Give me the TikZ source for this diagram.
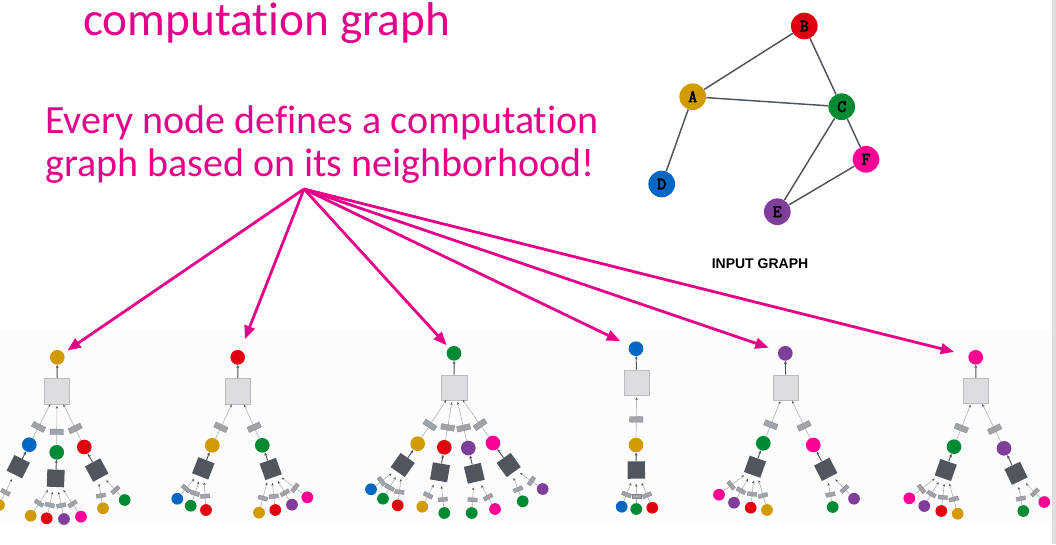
\documentclass[tikz,border=0pt]{standalone}
\usepackage{fontspec}
\setmainfont{Carlito}[Ligatures=NoCommon]
\newfontfamily\arialf{Liberation Sans}
\newfontfamily\courb{Latin Modern Mono}[AutoFakeBold=3.5]
\usetikzlibrary{arrows.meta,calc}
\definecolor{mag}{RGB}{228,0,137}
\definecolor{cA}{RGB}{209,155,0}
\definecolor{cB}{RGB}{224,0,18}
\definecolor{cC}{RGB}{0,138,52}
\definecolor{cD}{RGB}{0,104,196}
\definecolor{cE}{RGB}{126,62,154}
\definecolor{cF}{RGB}{255,0,148}
\definecolor{edgeg}{RGB}{78,84,92}
\definecolor{lsqf}{RGB}{220,221,224}
\definecolor{lsqd}{RGB}{185,187,190}
\definecolor{dsqf}{RGB}{80,85,94}
\definecolor{msgf}{RGB}{160,164,168}
\definecolor{lnc}{RGB}{182,184,187}
\definecolor{bgband}{RGB}{252,252,252}
\definecolor{edgestrip}{RGB}{222,222,222}
\tikzset{
  ig/.style={circle, inner sep=0, minimum size=20pt, text=black, font=\courb\bfseries\fontsize{13}{13}\selectfont},
  gedge/.style={draw=edgeg, line width=1.1pt},
  gn/.style={circle, inner sep=0, minimum size=11pt},
  lf/.style={circle, inner sep=0, minimum size=8.8pt},
  lsq/.style={rectangle, fill=lsqf, draw=lsqd, line width=0.7pt, minimum size=19pt, inner sep=0},
  dsq/.style={rectangle, fill=dsqf, minimum size=13pt, inner sep=0},
  msg/.style={rectangle, fill=msgf, draw=msgf!80!black, line width=0.2pt, minimum width=4.2pt, minimum height=10pt, inner sep=0, sloped},
  smsg/.style={rectangle, fill=msgf, draw=msgf!80!black, line width=0.2pt, minimum width=3pt, minimum height=7pt, inner sep=0, sloped},
  ln/.style={draw=lnc, line width=0.5pt, -{Stealth[length=2pt,width=1.8pt,color=edgeg]}},
  up/.style={draw=edgeg, line width=0.7pt, -{Stealth[length=2.4pt,width=2.2pt]}},
  bigarr/.style={draw=mag, line width=2.1pt, -{Triangle[length=10pt,width=8pt]}},
}
\newcommand\mkG[3]{\node[gn, fill=#3] (#1) at (#2) {};}
\newcommand\mkL[3]{\node[lf, fill=#3] (#1) at (#2) {};}
\newcommand\mkS[3]{\node[lsq] (#1) at (#2) {}; \draw[up] (#1) -- (#3);}
\newcommand\mkA[3]{\path (#2) -- (#3) node[pos=0, sloped, dsq] (#1) {}; \draw[up] (#1) -- (#3);}
\newcommand\edL[3][0.33]{\draw[ln] (#2) -- node[msg, pos=#1] {} ($(#3)!11pt!(#2)$);}
\newcommand\edD[3][0.36]{\draw[ln] (#2) -- node[smsg, pos=#1] {} ($(#3)!10.5pt!(#2)$);}
\begin{document}
\begin{tikzpicture}[x=0.75pt, y=-0.75pt]
\useasboundingbox (0,0) rectangle (1056,544);
\fill[bgband] (0,330) rectangle (1052,524);
\fill[edgestrip] (1052,0) rectangle (1056,544);

% title and text
\node[anchor=base west, inner sep=0, text=mag, font=\fontsize{35.5}{40}\selectfont] (title) at (83,35) {computation graph};
\node[anchor=base west, inner sep=0, text=mag, font=\fontsize{30}{35}\selectfont] (l1) at (45,133) {Every node defines a computation};
\node[anchor=base west, inner sep=0, text=mag, font=\fontsize{30}{35}\selectfont] (l2) at (45,176) {graph based on its neighborhood!};

% input graph
\node[ig, fill=cB] (B) at (804.3,26) {B};
\node[ig, fill=cA] (A) at (692.7,96.7) {A};
\node[ig, fill=cC] (C) at (841.7,106.7) {C};
\node[ig, fill=cF] (F) at (866,159.3) {F};
\node[ig, fill=cD] (D) at (661.7,184) {D};
\node[ig, fill=cE] (E) at (777.3,211.7) {E};
\draw[gedge] (A) -- (B) (A) -- (C) (B) -- (C) (A) -- (D) (C) -- (E) (C) -- (F) (E) -- (F);
\node[font=\arialf\bfseries\fontsize{10.5}{12}\selectfont] (iglabel) at (760,264) {INPUT GRAPH};

\begin{scope}
\clip (0,330) rectangle (1052,524);
% ---------- tree 1 (A) ----------
\mkG{t1r}{57.3,357.3}{cA}
\mkS{t1s}{57,391.3}{t1r}
\mkG{t1a}{29.3,444.7}{cD}
\mkG{t1b}{56.7,452.3}{cC}
\mkG{t1c}{84.3,447}{cB}
\edL{t1a}{t1s} \edL{t1b}{t1s} \edL{t1c}{t1s}
\mkA{t1aa}{18.3,466.7}{t1a}
\mkA{t1ba}{55.7,478.3}{t1b}
\mkA{t1ca}{96.7,470}{t1c}
\mkL{t1a1}{-1,505}{cA}
\mkL{t1b1}{30.7,515.7}{cA} \mkL{t1b2}{46.7,518.3}{cB} \mkL{t1b3}{64,519}{cE} \mkL{t1b4}{81,516.7}{cF}
\mkL{t1c1}{103,508.3}{cA} \mkL{t1c2}{124.7,500}{cC}
\edD{t1a1}{t1aa}
\edD{t1b1}{t1ba} \edD{t1b2}{t1ba} \edD{t1b3}{t1ba} \edD{t1b4}{t1ba}
\edD{t1c1}{t1ca} \edD{t1c2}{t1ca}
% ---------- tree 2 (B) ----------
\mkG{t2r}{237.7,357.3}{cB}
\mkS{t2s}{238,391.3}{t2r}
\mkG{t2a}{212.3,445.3}{cA}
\mkG{t2b}{262.3,445.3}{cC}
\edL{t2a}{t2s} \edL{t2b}{t2s}
\mkA{t2aa}{203.3,468.3}{t2a}
\mkA{t2ba}{270.7,469}{t2b}
\mkL{t2a1}{177.3,498.7}{cD} \mkL{t2a2}{190.7,505.7}{cC} \mkL{t2a3}{206,510}{cB}
\mkL{t2b1}{259,512.7}{cA} \mkL{t2b2}{275.3,510}{cB} \mkL{t2b3}{292,504.7}{cE} \mkL{t2b4}{307.3,497.3}{cF}
\edD{t2a1}{t2aa} \edD{t2a2}{t2aa} \edD{t2a3}{t2aa}
\edD{t2b1}{t2ba} \edD{t2b2}{t2ba} \edD{t2b3}{t2ba} \edD{t2b4}{t2ba}
% ---------- tree 3 (C) ----------
\mkG{t3r}{454,353.3}{cC}
\mkS{t3s}{454.3,387.7}{t3r}
\mkG{t3a}{417.7,443.7}{cA}
\mkG{t3b}{444.3,447.3}{cB}
\mkG{t3c}{468.3,448}{cE}
\mkG{t3d}{493,443}{cF}
\edL{t3a}{t3s} \edL{t3b}{t3s} \edL{t3c}{t3s} \edL{t3d}{t3s}
\mkA{t3aa}{402.7,465}{t3a}
\mkA{t3ba}{440,472.3}{t3b}
\mkA{t3ca}{474.3,473.3}{t3c}
\mkA{t3da}{508.7,465}{t3d}
\mkL{t3a1}{371,489.3}{cD} \mkL{t3a2}{383,498.7}{cC} \mkL{t3a3}{397.7,505.3}{cB}
\mkL{t3b1}{422.3,506.7}{cA} \mkL{t3b2}{444.3,513}{cC}
\mkL{t3c1}{471.7,513}{cC} \mkL{t3c2}{495,509}{cF}
\mkL{t3d1}{522.7,501.3}{cC} \mkL{t3d2}{542.7,489}{cE}
\edD{t3a1}{t3aa} \edD{t3a2}{t3aa} \edD{t3a3}{t3aa}
\edD{t3b1}{t3ba} \edD{t3b2}{t3ba}
\edD{t3c1}{t3ca} \edD{t3c2}{t3ca}
\edD{t3d1}{t3da} \edD{t3d2}{t3da}
% ---------- tree 4 (D) ----------
\mkG{t4r}{636,348.7}{cD}
\mkS{t4s}{636.7,382.7}{t4r}
\mkG{t4a}{636,445}{cA}
\edL[0.45]{t4a}{t4s}
\mkA{t4aa}{636.3,470}{t4a}
\mkL{t4a1}{621.7,506.7}{cD} \mkL{t4a2}{636.3,509}{cC} \mkL{t4a3}{652.3,507.7}{cB}
\edD{t4a1}{t4aa} \edD{t4a2}{t4aa} \edD{t4a3}{t4aa}
% ---------- tree 5 (E) ----------
\mkG{t5r}{785.3,353.3}{cE}
\mkS{t5s}{785.7,387.7}{t5r}
\mkG{t5a}{763.3,443.3}{cC}
\mkG{t5b}{813.3,445}{cF}
\edL{t5a}{t5s} \edL{t5b}{t5s}
\mkA{t5aa}{755,466.7}{t5a}
\mkA{t5ba}{825.7,469.3}{t5b}
\mkL{t5a1}{719,494.7}{cF} \mkL{t5a2}{734,502.7}{cE} \mkL{t5a3}{750.7,507.7}{cB} \mkL{t5a4}{767,510}{cA}
\mkL{t5b1}{832.7,507}{cC} \mkL{t5b2}{854,498.7}{cE}
\edD{t5a1}{t5aa} \edD{t5a2}{t5aa} \edD{t5a3}{t5aa} \edD{t5a4}{t5aa}
\edD{t5b1}{t5ba} \edD{t5b2}{t5ba}
% ---------- tree 6 (F) ----------
\mkG{t6r}{975.7,357.3}{cF}
\mkS{t6s}{976,391}{t6r}
\mkG{t6a}{954,446.7}{cC}
\mkG{t6b}{1004,448.3}{cE}
\edL{t6a}{t6s} \edL{t6b}{t6s}
\mkA{t6aa}{945.7,470}{t6a}
\mkA{t6ba}{1016,473.3}{t6b}
\mkL{t6a1}{909.3,498.3}{cF} \mkL{t6a2}{924.3,506}{cE} \mkL{t6a3}{941.3,511}{cB} \mkL{t6a4}{957.7,513.7}{cA}
\mkL{t6b1}{1023.3,511}{cC} \mkL{t6b2}{1044.3,502}{cF}
\edD{t6a1}{t6aa} \edD{t6a2}{t6aa} \edD{t6a3}{t6aa} \edD{t6a4}{t6aa}
\edD{t6b1}{t6ba} \edD{t6b2}{t6ba}
\end{scope}

% big arrows
\coordinate (src) at (304,189);
\draw[bigarr, shorten >=3.5pt] (src) -- (t1r);
\draw[bigarr, shorten >=9pt] (src) -- (t2r);
\draw[bigarr, shorten >=2.5pt] (src) -- (t3r);
\draw[bigarr, shorten >=7.5pt] (src) -- (t4r);
\draw[bigarr, shorten >=7.5pt] (src) -- (t5r);
\draw[bigarr, shorten >=11pt] (src) -- (t6r);
\end{tikzpicture}
\end{document}
